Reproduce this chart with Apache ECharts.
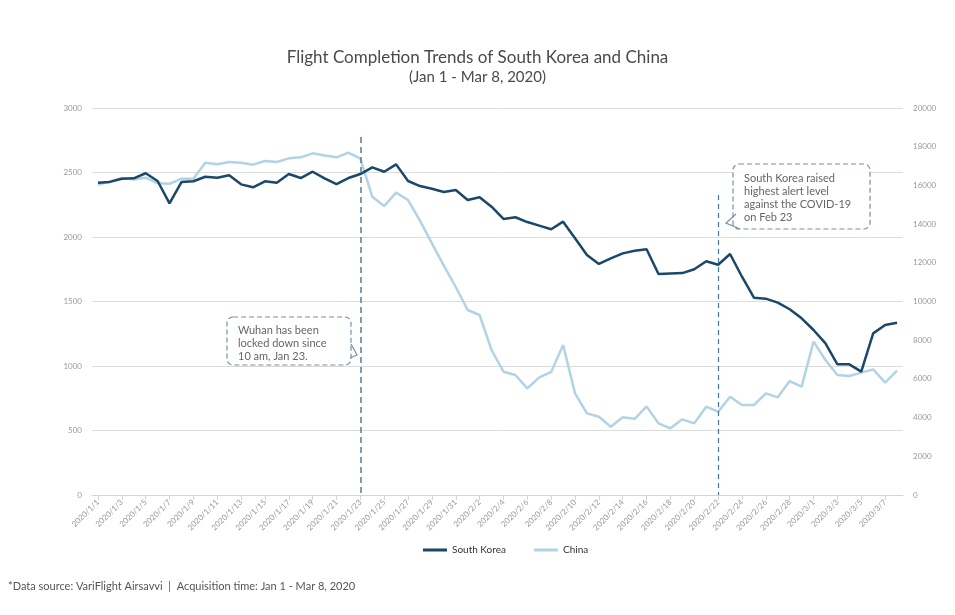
<!DOCTYPE html>
<html>
<head>
<meta charset="utf-8">
<script src="https://cdn.jsdelivr.net/npm/echarts@6/dist/echarts.min.js"></script>
<style>html,body{margin:0;padding:0;background:#fff}#c{width:955px;height:615px}</style>
</head>
<body>
<div id="c"></div>
<script>
const dates = ['2020/1/1','2020/1/2','2020/1/3','2020/1/4','2020/1/5','2020/1/6','2020/1/7','2020/1/8','2020/1/9','2020/1/10',
'2020/1/11','2020/1/12','2020/1/13','2020/1/14','2020/1/15','2020/1/16','2020/1/17','2020/1/18','2020/1/19','2020/1/20',
'2020/1/21','2020/1/22','2020/1/23','2020/1/24','2020/1/25','2020/1/26','2020/1/27','2020/1/28','2020/1/29','2020/1/30',
'2020/1/31','2020/2/1','2020/2/2','2020/2/3','2020/2/4','2020/2/5','2020/2/6','2020/2/7','2020/2/8','2020/2/9',
'2020/2/10','2020/2/11','2020/2/12','2020/2/13','2020/2/14','2020/2/15','2020/2/16','2020/2/17','2020/2/18','2020/2/19',
'2020/2/20','2020/2/21','2020/2/22','2020/2/23','2020/2/24','2020/2/25','2020/2/26','2020/2/27','2020/2/28','2020/2/29',
'2020/3/1','2020/3/2','2020/3/3','2020/3/4','2020/3/5','2020/3/6','2020/3/7','2020/3/8'];

const southKorea = [2421,2427,2452,2455,2494,2434,2261,2426,2432,2467,
2460,2478,2408,2385,2432,2421,2488,2457,2506,2455,
2410,2457,2488,2540,2506,2563,2434,2395,2374,2349,
2364,2287,2308,2235,2140,2153,2116,2088,2060,2119,
1990,1860,1791,1835,1873,1894,1905,1713,1718,1720,
1750,1812,1785,1868,1692,1530,1522,1491,1440,1370,
1279,1176,1013,1013,956,1253,1318,1336];

const china = [16036,16210,16382,16300,16400,16108,16080,16346,16346,17174,
17088,17209,17174,17071,17261,17209,17399,17450,17658,17540,
17450,17690,17381,15418,14935,15625,15245,14176,13007,11850,
10750,9561,9302,7494,6373,6202,5512,6081,6357,7752,
5254,4220,4047,3530,4013,3936,4580,3703,3445,3910,
3703,4565,4306,5082,4651,4651,5254,5048,5891,5598,
7924,6977,6202,6150,6322,6494,5806,6426];

const leftTicks = {min: 0, max: 3000, interval: 500};
const rightTicks = {min: 0, max: 20000, interval: 2000};
const events = [
  {date: '2020/1/23', top: 2775},
  {date: '2020/2/22', top: 2326}
];

const FONT = 'Lato, "Noto Sans", sans-serif';
const chart = echarts.init(document.getElementById('c'), null, {renderer: 'canvas'});
const plain = v => String(v);

chart.setOption({
  backgroundColor: '#fff',
  animation: false,
  textStyle: {fontFamily: FONT},
  title: {
    text: 'Flight Completion Trends of South Korea and China',
    subtext: '(Jan 1 - Mar 8, 2020)',
    left: 'center',
    top: 44,
    itemGap: 4,
    textStyle: {fontSize: 17, fontWeight: 'normal', color: '#4a4a4a', fontFamily: FONT},
    subtextStyle: {fontSize: 15, color: '#4a4a4a', fontFamily: FONT}
  },
  legend: {
    bottom: 55,
    left: 418,
    itemWidth: 24,
    itemHeight: 3,
    itemGap: 28,
    icon: 'rect',
    textStyle: {fontSize: 10, color: '#333', fontFamily: FONT},
    data: ['South Korea', 'China']
  },
  grid: {left: 92, right: 52, top: 108, bottom: 120, containLabel: false},
  xAxis: {
    type: 'category',
    data: dates,
    boundaryGap: true,
    axisLine: {lineStyle: {color: '#d5d5d5'}},
    axisTick: {show: true, alignWithLabel: true, interval: 1, lineStyle: {color: '#d5d5d5'}},
    axisLabel: {interval: 1, rotate: 45, fontSize: 8, color: '#999', margin: 6}
  },
  yAxis: [
    {type: 'value', min: leftTicks.min, max: leftTicks.max, interval: leftTicks.interval,
     axisLine: {show: false}, axisTick: {show: false},
     axisLabel: {fontSize: 8, color: '#999', margin: 10, formatter: plain},
     splitLine: {lineStyle: {color: '#dcdcdc', width: 1}}},
    {type: 'value', min: rightTicks.min, max: rightTicks.max, interval: rightTicks.interval,
     axisLine: {show: false}, axisTick: {show: false},
     axisLabel: {fontSize: 8, color: '#999', margin: 10, formatter: plain},
     splitLine: {show: false}}
  ],
  series: [
    {name: 'China', type: 'line', yAxisIndex: 1, data: china, symbol: 'none',
     lineStyle: {color: '#b2d3e5', width: 2.5}, itemStyle: {color: '#b2d3e5'}, z: 2},
    {name: 'South Korea', type: 'line', yAxisIndex: 0, data: southKorea, symbol: 'none',
     lineStyle: {color: '#1b4768', width: 2.5}, itemStyle: {color: '#1b4768'}, z: 3,
     markLine: {
       silent: true, symbol: 'none', label: {show: false},
       data: [
         [{xAxis: events[0].date, yAxis: events[0].top, lineStyle: {color: '#5b7b93', type: [6, 4], width: 1.5}},
          {xAxis: events[0].date, yAxis: 0}],
         [{xAxis: events[1].date, yAxis: events[1].top, lineStyle: {color: '#3d77aa', type: [5, 4], width: 1.2}},
          {xAxis: events[1].date, yAxis: 0}]
       ]
     }}
  ],
  graphic: [
    {type: 'rect', shape: {x: 227, y: 317, width: 124, height: 48, r: 6},
     style: {fill: 'rgba(255,255,255,0.85)', stroke: '#7591a6', lineWidth: 1.2, lineDash: [5, 3]}, z: 10},
    {type: 'polyline', shape: {points: [[351, 344], [357, 355], [350, 358]]},
     style: {stroke: '#7591a6', lineWidth: 1.2, fill: null}, z: 11},
    {type: 'text', left: 238, top: 324,
     style: {text: 'Wuhan has been\nlocked down since\n10 am, Jan 23.', fontSize: 11, lineHeight: 13, fill: '#666', fontFamily: FONT}, z: 12},

    {type: 'rect', shape: {x: 733, y: 164, width: 137, height: 65, r: 6},
     style: {fill: 'rgba(255,255,255,0.85)', stroke: '#7591a6', lineWidth: 1.2, lineDash: [5, 3]}, z: 10},
    {type: 'polyline', shape: {points: [[736, 214], [726, 223], [740, 229]]},
     style: {stroke: '#7591a6', lineWidth: 1.2, fill: null}, z: 11},
    {type: 'text', left: 744, top: 172,
     style: {text: 'South Korea raised\nhighest alert level\nagainst the COVID-19\non Feb 23', fontSize: 11, lineHeight: 13, fill: '#666', fontFamily: FONT}, z: 12},

    {type: 'text', left: 8, top: 581,
     style: {text: '*Data source: VariFlight Airsavvi  |  Acquisition time: Jan 1 - Mar 8, 2020', fontSize: 11, fill: '#555', fontFamily: FONT}}
  ]
});
</script>
</body>
</html>
